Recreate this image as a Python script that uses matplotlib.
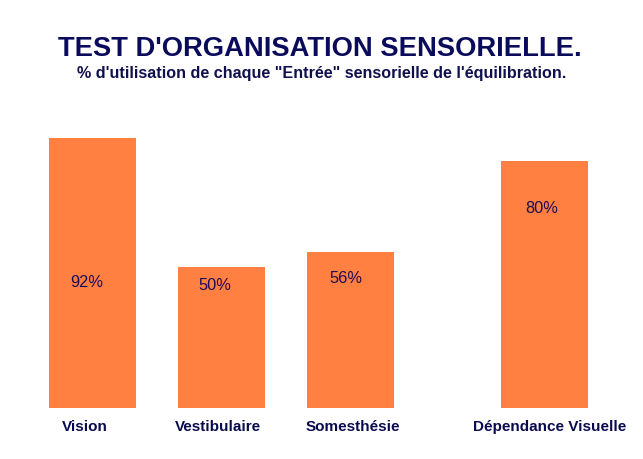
import matplotlib
matplotlib.use("Agg")
import matplotlib.pyplot as plt

categories = ["Vision", "Vestibulaire", "Somesthésie", "Dépendance Visuelle"]
bar_heights = [92, 48, 53, 84]
value_labels = ["92%", "50%", "56%", "80%"]
title = "TEST D'ORGANISATION SENSORIELLE."
subtitle = "% d'utilisation de chaque \"Entrée\" sensorielle de l'équilibration."

# layout
x_pos = [0, 1, 2, 3.5]
label_base_y = [41.6, 40.4, 42.9, 66.6]
label_dx_px = [-6, -7, -4.5, -2]
cat_dx_px = [-7, -3, 2.5, 5]

plt.rcParams['font.family'] = ['Liberation Sans', 'DejaVu Sans']

fig = plt.figure(figsize=(6.43, 4.60), dpi=100)
fig.patch.set_facecolor('white')
ax = fig.add_axes([27.75 / 643, 51.5 / 460, (608.7 - 27.75) / 643, 293 / 460])
ax.set_xlim(-0.5, 4.0)
ax.set_ylim(0, 100)
ax.bar(x_pos, bar_heights, width=0.674, color='#FF8040', edgecolor='none')
ax.axis('off')

for x, yb, lab, dx in zip(x_pos, label_base_y, value_labels, label_dx_px):
    ax.annotate(lab, (x, yb), xytext=(dx, 0), textcoords='offset pixels',
                ha='center', va='baseline', fontsize=11.8, color='#1f0a55')

for x, cat, dx in zip(x_pos, categories, cat_dx_px):
    ax.annotate(cat, (x, 0), xytext=(dx, -22.5), textcoords='offset pixels',
                ha='center', va='baseline', fontsize=11, fontweight='bold',
                color='#0a0a50', annotation_clip=False)

fig.text(320 / 643, (460 - 55.7) / 460, title, ha='center', va='baseline',
         fontsize=19.7, fontweight='bold', color='#0b0b5c')
fig.text(322 / 643, (460 - 78.0) / 460, subtitle, ha='center', va='baseline',
         fontsize=11.6, fontweight='bold', color='#10104f')

fig.savefig('out.png', dpi=100, facecolor='white')
